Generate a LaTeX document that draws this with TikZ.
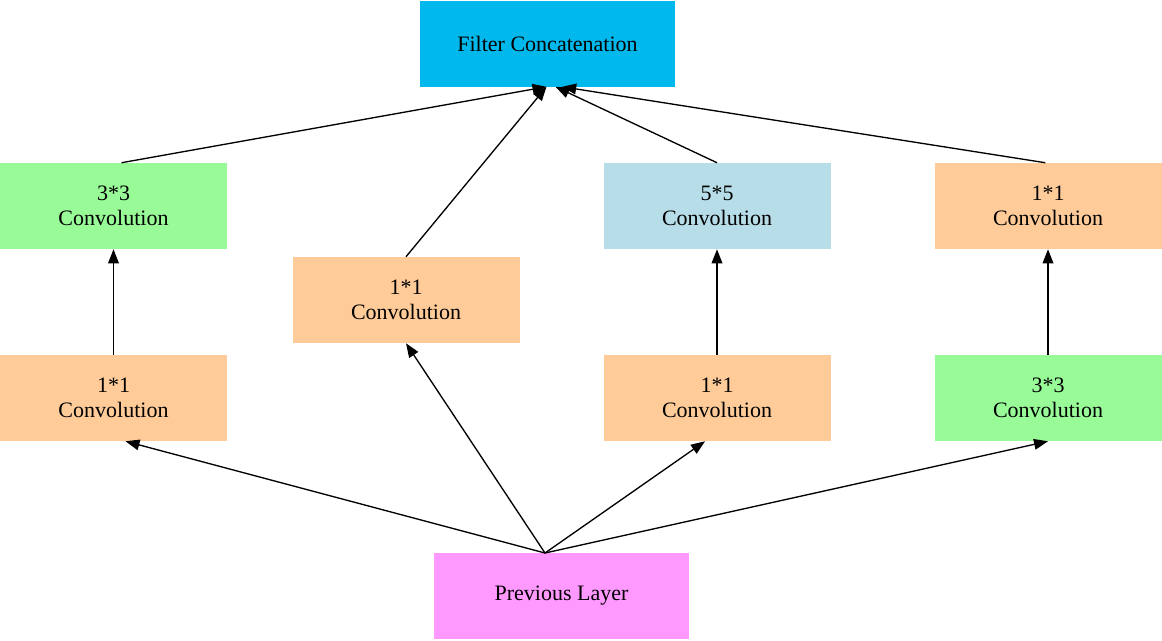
\documentclass[tikz,border=0pt]{standalone}
\usepackage{fontspec}
\setmainfont{Liberation Serif}
\usetikzlibrary{arrows.meta}
\definecolor{cblue}{HTML}{00B8EC}
\definecolor{cgreen}{HTML}{98FB98}
\definecolor{corange}{HTML}{FFCC99}
\definecolor{clblue}{HTML}{B6DDE8}
\definecolor{cpink}{HTML}{FF99FF}
\begin{document}
\begin{tikzpicture}[x=0.75pt,y=-0.75pt,
  box/.style={inner sep=0pt,align=center,minimum width=170.25pt,minimum height=64.5pt,font=\fontsize{16.5}{19}\selectfont},
  arr/.style={-{Triangle[length=10.5pt,width=8pt]},line width=1pt}]
\useasboundingbox (0,0) rectangle (1162,640);
\node[box,fill=cblue,minimum width=191pt] (fc) at (547.5,43.5) {Filter Concatenation};
\node[box,fill=cgreen] (a2) at (113.5,206) {3*3\\Convolution};
\node[box,fill=corange] (b1) at (406,300) {1*1\\Convolution};
\node[box,fill=clblue] (c2) at (717,206) {5*5\\Convolution};
\node[box,fill=corange] (d2) at (1048,206) {1*1\\Convolution};
\node[box,fill=corange] (a1) at (113.5,398) {1*1\\Convolution};
\node[box,fill=corange] (c1) at (717,398) {1*1\\Convolution};
\node[box,fill=cgreen] (d1) at (1048,398) {3*3\\Convolution};
\node[box,fill=cpink,minimum width=191pt] (p) at (561.5,596) {Previous Layer};
\coordinate (ps) at (545,553);
\draw[arr] (ps) -- ([xshift=9pt]a1.south);
\draw[arr] (ps) -- (b1.south);
\draw[arr] (ps) -- ([xshift=-9pt]c1.south);
\draw[arr] (ps) -- (d1.south);
\draw[arr] (a1.north) -- (a2.south);
\draw[arr] (c1.north) -- (c2.south);
\draw[arr] (d1.north) -- (d2.south);
\draw[arr] ([xshift=6pt]a2.north) -- ([xshift=-0.75pt]fc.south);
\draw[arr] (b1.north) -- ([xshift=-0.75pt]fc.south);
\draw[arr] (c2.north) -- ([xshift=6pt]fc.south);
\draw[arr] ([xshift=-2pt]d2.north) -- ([xshift=11pt]fc.south);
\end{tikzpicture}
\end{document}
